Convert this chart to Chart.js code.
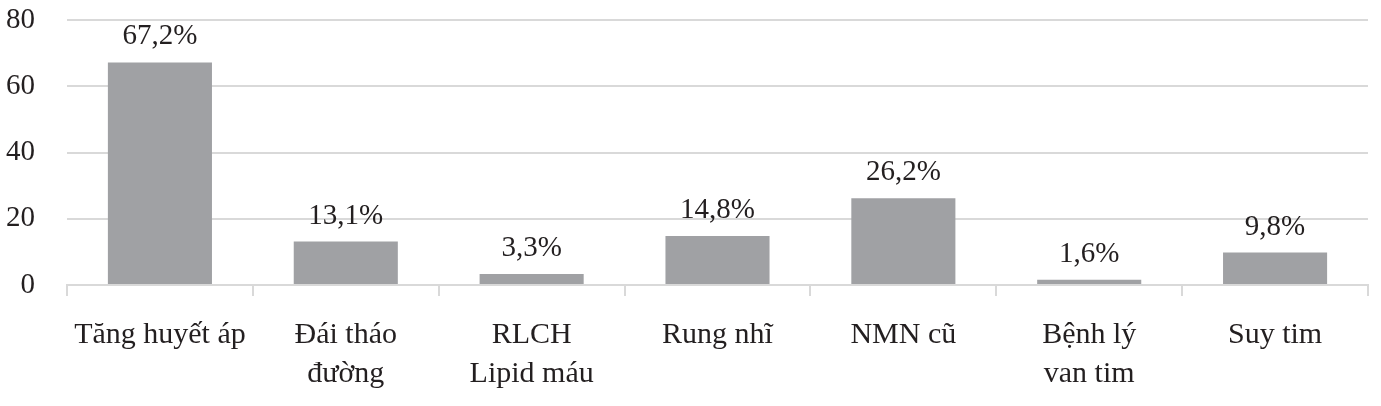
<!DOCTYPE html>
<html><head><meta charset="utf-8">
<script src="https://cdn.jsdelivr.net/npm/chart.js@4"></script>
<style>html,body{margin:0;padding:0;background:#fff;}#wrap{width:1381px;height:406px;}</style>
</head><body><div id="wrap"><canvas id="c" width="1381" height="406"></canvas></div>
<script>
const categories = [["Tăng huyết áp"], ["Đái tháo", "đường"], ["RLCH", "Lipid máu"], ["Rung nhĩ"], ["NMN cũ"], ["Bệnh lý", "van tim"], ["Suy tim"]];
const values = [67.2, 13.1, 3.3, 14.8, 26.2, 1.6, 9.8];
const valueLabels = ["67,2%", "13,1%", "3,3%", "14,8%", "26,2%", "1,6%", "9,8%"];
const yTicks = [0, 20, 40, 60, 80];

const FONT = "'Liberation Serif', serif";
const TEXT = "#231f20";

const labelPlugin = {
  id: 'valLabels',
  afterDatasetsDraw(chart) {
    const ctx = chart.ctx;
    const meta = chart.getDatasetMeta(0);
    ctx.save();
    ctx.font = "29px " + FONT;
    ctx.fillStyle = TEXT;
    ctx.textAlign = 'center';
    ctx.textBaseline = 'alphabetic';
    meta.data.forEach((el, i) => {
      ctx.fillText(valueLabels[i], el.x, el.y - 18);
    });
    ctx.restore();
  }
};

new Chart(document.getElementById('c'), {
  type: 'bar',
  data: {
    labels: categories,
    datasets: [{
      data: values,
      backgroundColor: '#a0a1a4',
      categoryPercentage: 0.56,
      barPercentage: 1.0
    }]
  },
  options: {
    responsive: false,
    animation: false,
    devicePixelRatio: 1,
    layout: { padding: { top: 20, right: 13, left: 0, bottom: 0 } },
    plugins: { legend: { display: false }, tooltip: { enabled: false } },
    scales: {
      x: {
        afterFit(s) { s.height = 121; },
        grid: { display: true, drawOnChartArea: false, drawTicks: true, tickLength: 11, color: '#d9d9d9', lineWidth: 2, offset: true },
        border: { display: true, color: '#d9d9d9', width: 2 },
        ticks: { color: TEXT, font: { family: FONT, size: 30, lineHeight: 1.3 }, padding: 20, maxRotation: 0, autoSkip: false }
      },
      y: {
        min: 0, max: 80,
        afterFit(s) { s.width = 67; s.paddingTop = 0; s.paddingBottom = 0; },
        afterBuildTicks(s) { s.ticks = yTicks.map(v => ({ value: v })); },
        grid: { color: '#d9d9d9', lineWidth: 2, drawTicks: false },
        border: { display: false },
        ticks: { color: TEXT, font: { family: FONT, size: 29 }, padding: 32 }
      }
    }
  },
  plugins: [labelPlugin]
});
</script></body></html>
